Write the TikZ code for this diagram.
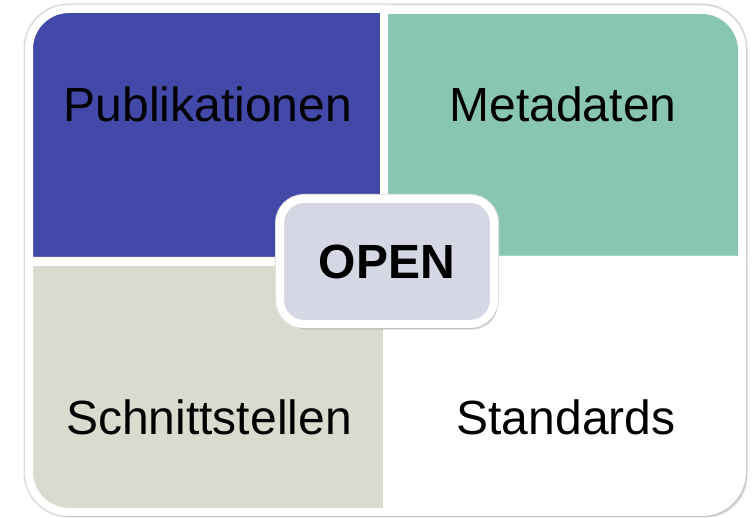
\documentclass[tikz,border=0pt]{standalone}
\usepackage{fontspec}
\setmainfont{Liberation Sans}
\usetikzlibrary{shadows}

\definecolor{pubblue}{RGB}{67,73,168}
\definecolor{metagreen}{RGB}{136,198,177}
\definecolor{ifacegray}{RGB}{216,220,207}
\definecolor{openlilac}{RGB}{214,215,229}

\begin{document}
\begin{tikzpicture}[
    x=0.5pt, y=0.5pt,
    quad/.style={
        draw=white, line width=4pt,
        drop shadow={shadow xshift=2.6pt, shadow yshift=-2.6pt, opacity=0.22}
    },
    quadtext/.style={anchor=base, font=\fontsize{24}{28}\selectfont},
    openbox/.style={
        rectangle, rounded corners=12pt,
        fill=openlilac, draw=white, line width=4pt,
        minimum width=107pt, minimum height=62.5pt,
        font=\bfseries\fontsize{24}{28}\selectfont,
        preaction={draw=black!12, line width=5pt},
        drop shadow={shadow xshift=1.5pt, shadow yshift=-2.8pt, opacity=0.3}
    }
]
\useasboundingbox (0,0) rectangle (755,518);

% faint rim round the whole block
\draw[black!14, line width=1pt, rounded corners=22pt] (24.5,1.5) rectangle (746.5,513.5);

% Four quadrants, each with one rounded outer corner
\path[quad, fill=pubblue]   (384,257) -- (29,257) -- (29,469)
    arc[start angle=180, end angle=90, radius=40] -- (384,509) -- cycle;
\path[quad, fill=metagreen] (384,258) -- (384,508) -- (702,508)
    arc[start angle=90, end angle=0, radius=40] -- (742,258) -- cycle;
\path[quad, fill=ifacegray] (387,256) -- (29,256) -- (29,46)
    arc[start angle=180, end angle=270, radius=40] -- (387,6) -- cycle;
\path[quad, fill=white]     (387,258) -- (742,258) -- (742,46)
    arc[start angle=0, end angle=-90, radius=40] -- (387,6) -- cycle;

% Quadrant labels
\node[quadtext] (publikationen)  at (208,396) {Publikationen};
\node[quadtext] (metadaten)      at (563,396) {Metadaten};
\node[quadtext] (schnittstellen) at (209,83)  {Schnittstellen};
\node[quadtext] (standards)      at (566,83)  {Standards};

% Centre box
\node[openbox] (open) at (387,256.5) {OPEN};

\end{tikzpicture}
\end{document}
